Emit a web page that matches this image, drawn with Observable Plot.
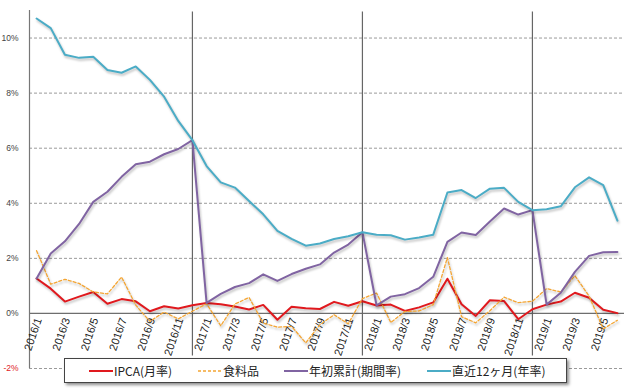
<!DOCTYPE html>
<html><head><meta charset="utf-8">
<script src="https://cdn.jsdelivr.net/npm/d3@7"></script>
<script src="https://cdn.jsdelivr.net/npm/@observablehq/plot@0.6"></script>
<style>
body{margin:0;background:#fff;}
#wrap{position:relative;width:627px;height:388px;}
#legend{position:absolute;left:64px;top:358px;width:501px;height:23px;border:1px solid #444;background:#fff;box-shadow:2px 2px 3px rgba(0,0,0,0.45);font-family:"Noto Sans CJK JP";font-size:12px;color:#222;}
.item{position:absolute;top:0;height:23px;display:flex;align-items:center;white-space:nowrap;}
.item svg{margin-right:1px;}
g[aria-label="line"] path{filter:drop-shadow(1px 2px 1px rgba(0,0,0,0.25));}
</style></head>
<body><div id="wrap"><div id="chart"></div><div id="legend"></div></div>
<script>
const months = ["2016/1","2016/2","2016/3","2016/4","2016/5","2016/6","2016/7","2016/8","2016/9","2016/10","2016/11","2016/12",
"2017/1","2017/2","2017/3","2017/4","2017/5","2017/6","2017/7","2017/8","2017/9","2017/10","2017/11","2017/12",
"2018/1","2018/2","2018/3","2018/4","2018/5","2018/6","2018/7","2018/8","2018/9","2018/10","2018/11","2018/12",
"2019/1","2019/2","2019/3","2019/4","2019/5","2019/6"];
const ipca = [1.27,0.90,0.43,0.61,0.78,0.35,0.52,0.44,0.08,0.26,0.18,0.30,
0.38,0.33,0.25,0.14,0.31,-0.23,0.24,0.19,0.16,0.42,0.28,0.44,
0.29,0.32,0.09,0.22,0.40,1.26,0.33,-0.09,0.48,0.45,-0.21,0.15,
0.32,0.43,0.75,0.57,0.13,0.01];
const food = [2.28,1.06,1.24,1.09,0.78,0.71,1.32,0.30,-0.29,0.05,-0.20,0.08,
0.35,-0.45,0.34,0.58,-0.35,-0.50,-0.47,-1.07,-0.41,-0.05,-0.38,0.54,
0.74,-0.33,0.07,0.09,0.32,2.03,-0.12,-0.34,0.10,0.59,0.39,0.44,
0.90,0.78,1.37,0.63,-0.56,-0.25];
const ytd = [1.27,2.18,2.62,3.25,4.05,4.42,4.96,5.42,5.51,5.78,5.97,6.29,
0.38,0.71,0.96,1.10,1.42,1.18,1.43,1.62,1.78,2.21,2.50,2.95,
0.29,0.61,0.70,0.92,1.33,2.60,2.94,2.85,3.34,3.81,3.59,3.75,
0.32,0.75,1.51,2.09,2.22,2.23];
const yoy = [10.71,10.36,9.39,9.28,9.32,8.84,8.74,8.97,8.48,7.87,6.99,6.29,
5.35,4.76,4.57,4.08,3.60,3.00,2.71,2.46,2.54,2.70,2.80,2.95,
2.86,2.84,2.68,2.76,2.86,4.39,4.48,4.19,4.53,4.56,4.05,3.75,
3.78,3.89,4.58,4.94,4.66,3.37];
const yTicks = [-2,0,2,4,6,8,10];
const xTickIdx = [0,2,4,6,8,10,12,14,16,18,20,22,24,26,28,30,32,34,36,38,40];
const yearBreaks = [11,23,35];
const seriesNames = ["IPCA(月率)","食料品","年初累計(期間率)","直近12ヶ月(年率)"];
const colors = ["#e0191e","#f4a533","#8064a2","#4bacc6"];

const rows = months.map((m,i)=>({i, m, ipca:ipca[i], food:food[i], ytd:ytd[i], yoy:yoy[i]}));

const chart = Plot.plot({
  width:627, height:388,
  marginLeft:29, marginRight:3, marginTop:10, marginBottom:20,
  x:{domain:[-0.5,41.5], axis:null},
  y:{domain:[-2,11], axis:null},
  style:{background:"transparent", overflow:"visible"},
  marks:[
    Plot.ruleY(yTicks.filter(d=>d!==0), {stroke:"#9a9a9a", strokeDasharray:"3,2", strokeWidth:1}),
    Plot.ruleY([0], {stroke:"#6e6e6e", strokeWidth:1.2}),
    Plot.ruleX([-0.5], {y1:-2, y2:11, stroke:"#777", strokeWidth:1.2}),
    Plot.ruleX(yearBreaks, {y1:-1.55, y2:10.95, stroke:"#666", strokeWidth:1.2}),
    Plot.text(xTickIdx, {x:d=>d, y:0, text:d=>months[d], rotate:-71, textAnchor:"end", dx:2, dy:5, fontSize:11, fill:"#222", fontFamily:"Liberation Sans"}),
    Plot.text(yTicks.filter(d=>d>=0), {x:-0.5, y:d=>d, text:d=>d+"%", textAnchor:"end", dx:-11, fontSize:8.5, fill:"#444", fontFamily:"Liberation Sans"}),
    Plot.text(yTicks.filter(d=>d<0), {x:-0.5, y:d=>d, text:d=>d+"%", textAnchor:"end", dx:-11, fontSize:8.5, fill:colors[0], fontFamily:"Liberation Sans"}),
    Plot.line(rows, {x:"i", y:"ipca", stroke:colors[0], strokeWidth:2}),
    Plot.line(rows, {x:"i", y:"food", stroke:colors[1], strokeWidth:1.3, strokeDasharray:"3,2"}),
    Plot.line(rows, {x:"i", y:"ytd", stroke:colors[2], strokeWidth:2}),
    Plot.line(rows, {x:"i", y:"yoy", stroke:colors[3], strokeWidth:2})
  ]
});
document.getElementById("chart").appendChild(chart);

const legendOffsets = [24,133,219,362];
const legend = document.getElementById("legend");
seriesNames.forEach((name,k)=>{
  const it = document.createElement("div");
  it.className = "item";
  it.style.left = legendOffsets[k] + "px";
  const dash = k===1 ? 'stroke-dasharray="3,2" stroke-width="1.3"' : 'stroke-width="2"';
  it.innerHTML = `<svg width="24" height="8"><line x1="0" y1="4" x2="24" y2="4" stroke="${colors[k]}" ${dash}/></svg><span>${name}</span>`;
  legend.appendChild(it);
});
</script>
</body></html>
